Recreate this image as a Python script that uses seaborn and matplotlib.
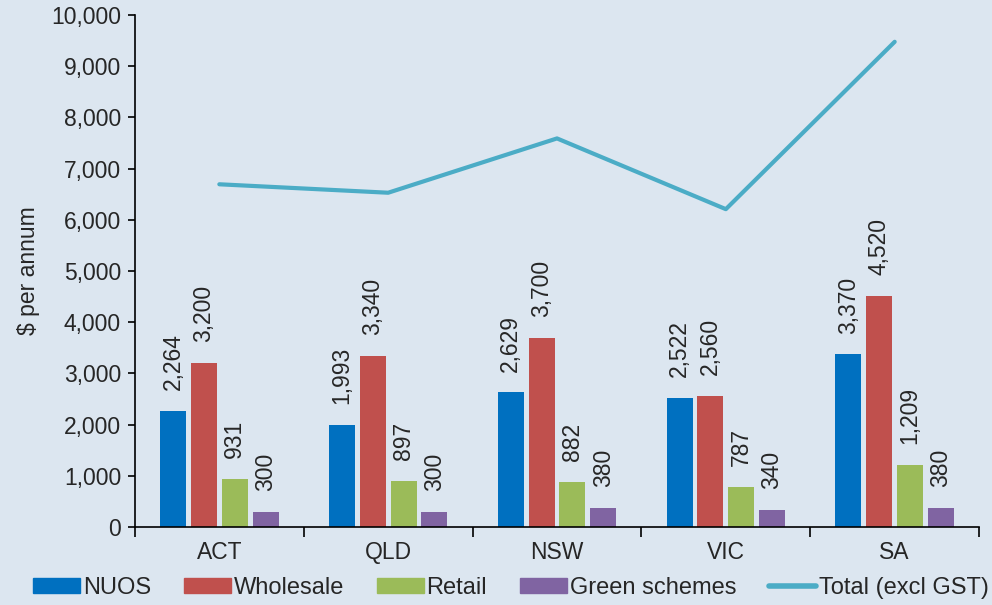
import numpy as np
import pandas as pd
import seaborn as sns
import matplotlib.pyplot as plt
from matplotlib.ticker import FuncFormatter, FixedLocator

states = ['ACT', 'QLD', 'NSW', 'VIC', 'SA']
nuos = [2264, 1993, 2629, 2522, 3370]
wholesale = [3200, 3340, 3700, 2560, 4520]
retail = [931, 897, 882, 787, 1209]
green = [300, 300, 380, 340, 380]
total = [6695, 6530, 7591, 6209, 9479]

series = ['NUOS', 'Wholesale', 'Retail', 'Green schemes']
colors = ['#0070C0', '#C0504D', '#9BBB59', '#8064A2']
bg = '#DCE6F0'

df = pd.DataFrame({
    'state': states * 4,
    'component': np.repeat(series, len(states)),
    'value': nuos + wholesale + retail + green,
})

sns.set_style('white')
plt.rcParams['font.family'] = ['Liberation Sans', 'DejaVu Sans']

fig = plt.figure(figsize=(9.92, 6.05), dpi=100, facecolor=bg)
ax = fig.add_axes([0.136, 0.129, 0.851, 0.846])
ax.set_facecolor(bg)

sns.barplot(data=df, x='state', y='value', hue='component', hue_order=series,
            palette=colors, width=0.73, gap=0.155, ax=ax, legend=False,
            linewidth=0, saturation=1)

# rotated value labels above each bar
for cont in ax.containers:
    labs = [f'{int(round(b.get_height())):,}' for b in cont]
    ax.bar_label(cont, labels=labs, rotation=90, padding=15, fontsize=16.5)

sns.lineplot(x=np.arange(len(states)), y=total, color='#4BACC6', linewidth=3,
             ax=ax, legend=False)

ax.set_xlim(-0.5, len(states) - 0.5)
ax.set_ylim(0, 10000)
ax.set_yticks(np.arange(0, 10001, 1000))
ax.yaxis.set_major_formatter(FuncFormatter(lambda v, p: f'{int(v):,}'))
ax.set_ylabel('$ per annum', fontsize=16.5, labelpad=8)
ax.set_xlabel('')

for s in ['top', 'right']:
    ax.spines[s].set_visible(False)
for s in ['left', 'bottom']:
    ax.spines[s].set_color('black')
    ax.spines[s].set_linewidth(1.2)

ax.tick_params(axis='y', which='major', left=True, length=5, width=1.2,
               color='black', labelsize=16.5, pad=5)
ax.tick_params(axis='x', which='major', length=0, labelsize=16.5, pad=10)
ax.xaxis.set_minor_locator(FixedLocator(np.arange(-0.5, len(states), 1.0)))
ax.tick_params(axis='x', which='minor', bottom=True, length=7, width=1.2,
               color='black')

handles = [plt.Rectangle((0, 0), 1, 1, color=c) for c in colors]
handles.append(plt.Line2D([0], [0], color='#4BACC6', linewidth=4))
fig.legend(handles, series + ['Total (excl GST)'], loc='center',
           bbox_to_anchor=(0.515, 0.028), ncol=5, frameon=False, fontsize=17,
           handlelength=2.0, handleheight=0.6, handletextpad=0.1,
           columnspacing=1.4)

fig.savefig('out.png', dpi=100, facecolor=bg)
